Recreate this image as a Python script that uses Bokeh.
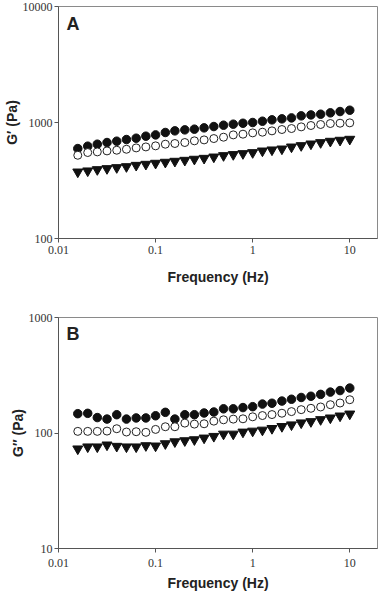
from bokeh.plotting import figure
from bokeh.models import Range1d, FixedTicker, CustomJSTickFormatter, Label, ColumnDataSource
from bokeh.layouts import column
from bokeh.embed import file_html
from bokeh.resources import INLINE

# Frequency (Hz)
freq = [0.0158, 0.02, 0.0251, 0.0316, 0.0398, 0.0501, 0.0631, 0.0794, 0.1, 0.126,
        0.158, 0.2, 0.251, 0.316, 0.398, 0.501, 0.631, 0.794, 1.0, 1.26,
        1.58, 2.0, 2.51, 3.16, 3.98, 5.01, 6.31, 7.94, 10.0]

# Panel A: G' (Pa)
gp_filled = [596, 625, 650, 672, 690, 713, 732, 762, 782, 820,
             847, 864, 876, 899, 923, 948, 967, 985, 1000, 1026,
             1054, 1075, 1096, 1141, 1163, 1179, 1211, 1243, 1276]
gp_open = [522, 551, 558, 569, 577, 588, 604, 616, 629, 650,
           659, 672, 695, 708, 727, 747, 782, 793, 814, 825,
           847, 870, 887, 917, 942, 961, 980, 986, 993]
gp_tri = [375, 383, 393, 401, 409, 417, 428, 437, 446, 455,
          464, 473, 483, 492, 505, 519, 530, 540, 551, 569,
          581, 592, 616, 633, 654, 672, 690, 704, 718]

# Panel B: G'' (Pa)
gpp_filled = [147, 148, 136, 132, 144, 132, 135, 135, 141, 151,
              132, 144, 144, 149, 152, 162, 162, 166, 169, 178,
              181, 189, 196, 203, 208, 216, 226, 233, 245]
gpp_open = [103.3, 103.3, 103.3, 103.9, 108.9, 102.0, 102.6, 101.3, 107.4, 113.3,
            113.3, 121.8, 119.4, 120.2, 126.7, 130.1, 131.9, 132.7, 138.1, 141.6,
            144.4, 148.3, 153.2, 159.3, 163.6, 168.0, 175.8, 181.8, 194.2]
gpp_tri = [72.9, 75.9, 75.9, 78.9, 76.8, 75.9, 75.9, 77.8, 77.3, 80.9,
           84.1, 85.9, 87.6, 90.6, 93.6, 98.0, 98.0, 102.0, 104.0, 106.1,
           109.6, 114.0, 117.8, 122.5, 125.7, 130.8, 135.2, 140.6, 146.2]

x_ticks = [0.01, 0.1, 1, 10]
yA_ticks = [100, 1000, 10000]
yB_ticks = [10, 100, 1000]

FMT = "return Number(tick.toPrecision(6)).toString();"


def make_panel(letter, ylabel, yrange, yticks, filled, opn, tri, height,
               top_border, bottom_border, xlab_standoff, xaxis_standoff):
    frame_h = height - top_border - bottom_border
    p = figure(width=378, height=height, x_axis_type="log", y_axis_type="log",
               output_backend="svg", toolbar_location=None,
               x_range=Range1d(0.01, 19.3), y_range=Range1d(*yrange),
               min_border_left=55, min_border_right=1,
               min_border_top=top_border, min_border_bottom=bottom_border)
    p.background_fill_color = "white"
    p.border_fill_color = "white"
    p.outline_line_color = "#8a8a8a"
    p.outline_line_width = 1
    p.grid.visible = False

    for ax in (p.xaxis[0], p.yaxis[0]):
        ax.axis_line_color = "#555555"
        ax.major_tick_line_color = "#555555"
        ax.major_tick_out = 4
        ax.major_tick_in = 0
        ax.minor_tick_line_color = None
        ax.major_label_text_font = "Liberation Serif"
        ax.major_label_text_font_size = "12px"
        ax.major_label_text_color = "#333333"
        ax.axis_label_text_font = "Liberation Sans"
        ax.axis_label_text_font_style = "bold"
        ax.axis_label_text_font_size = "14px"
        ax.axis_label_text_color = "#222222"
        ax.formatter = CustomJSTickFormatter(code=FMT)

    p.xaxis[0].ticker = FixedTicker(ticks=x_ticks)
    p.yaxis[0].ticker = FixedTicker(ticks=yticks)
    p.xaxis[0].axis_label = "Frequency (Hz)"
    p.xaxis[0].major_label_standoff = xlab_standoff
    p.xaxis[0].axis_label_standoff = xaxis_standoff
    p.yaxis[0].axis_label = ylabel
    p.yaxis[0].major_label_standoff = 2
    p.yaxis[0].axis_label_standoff = 0

    src = ColumnDataSource(dict(f=freq, a=filled, b=opn, c=tri))
    p.scatter("f", "a", source=src, marker="circle", size=8.5,
              fill_color="#111111", line_color="#111111")
    p.scatter("f", "b", source=src, marker="circle", size=8,
              fill_color="white", line_color="#222222", line_width=1)
    p.scatter("f", "c", source=src, marker="inverted_triangle", size=10,
              fill_color="#111111", line_color="#111111")

    p.add_layout(Label(x=8, y=frame_h - 7, x_units="screen", y_units="screen",
                       text=letter, text_font="Liberation Sans", text_font_style="bold",
                       text_font_size="18px", text_baseline="top", text_color="#222222"))
    return p


pA = make_panel("A", "G\u2032 (Pa)", (100, 10000), yA_ticks,
                gp_filled, gp_open, gp_tri, 305, 6, 67, 3, 12)
pB = make_panel("B", "G\u2033 (Pa)", (10, 1000), yB_ticks,
                gpp_filled, gpp_open, gpp_tri, 288, 12, 44, 6, 5)

layout = column(pA, pB, spacing=0)
open("out.html", "w").write(file_html(layout, INLINE))
